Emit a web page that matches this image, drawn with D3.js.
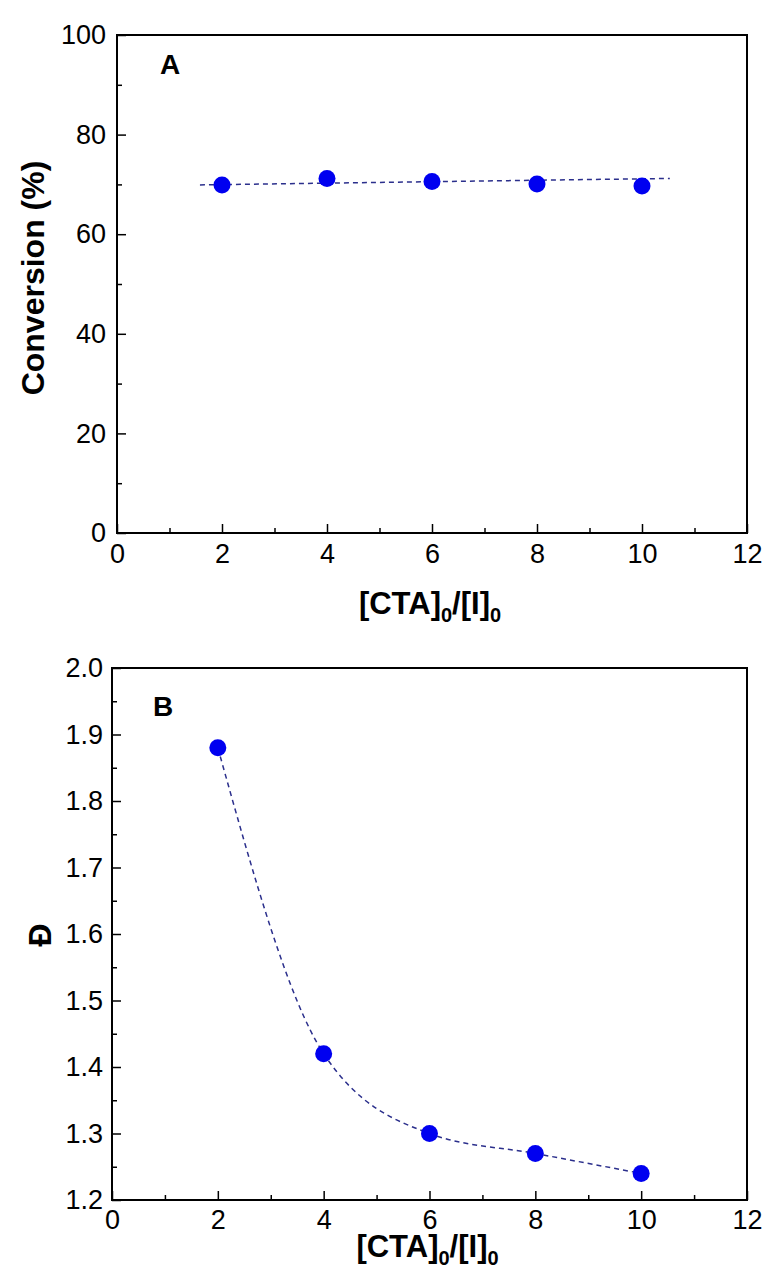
<!DOCTYPE html>
<html>
<head>
<meta charset="utf-8">
<script src="https://cdn.jsdelivr.net/npm/d3@7"></script>
<style>
  body { margin: 0; background: #fff; }
  text { font-family: "Liberation Sans", Arial, sans-serif; }
</style>
</head>
<body>
<script>
// data
var ratio = [2, 4, 6, 8, 10];
var conversion = [69.9, 71.2, 70.6, 70.1, 69.7];
var convFitX = [1.58, 10.53];
var convFitY = [69.9, 71.2];
var dispersity = [1.88, 1.42, 1.30, 1.27, 1.24];

var xTicks = [0, 2, 4, 6, 8, 10, 12];
var xMinor = [1, 3, 5, 7, 9, 11];
var convTicks = [0, 20, 40, 60, 80, 100];
var convMinor = [10, 30, 50, 70, 90];
var dispTicks = [1.2, 1.3, 1.4, 1.5, 1.6, 1.7, 1.8, 1.9, 2.0];
var dispMinor = [1.25, 1.35, 1.45, 1.55, 1.65, 1.75, 1.85, 1.95];

var W = 769, H = 1271;
var svg = d3.select("body").append("svg").attr("width", W).attr("height", H);

var drawPanel = function(p) {
  var x = d3.scaleLinear().domain([0, 12]).range([p.left, p.right]);
  var y = d3.scaleLinear().domain(p.yDomain).range([p.bottom, p.top]);
  var g = svg.append("g");

  // minor ticks
  g.append("g").attr("transform", "translate(0," + p.bottom + ")")
    .call(d3.axisBottom(x).tickValues(xMinor).tickSize(-5).tickFormat(""))
    .call(function(s) { s.select(".domain").remove(); });
  g.append("g").attr("transform", "translate(" + p.left + ",0)")
    .call(d3.axisLeft(y).tickValues(p.yMinor).tickSize(-5).tickFormat(""))
    .call(function(s) { s.select(".domain").remove(); });

  // major ticks
  var xa = g.append("g").attr("transform", "translate(0," + p.bottom + ")")
    .call(d3.axisBottom(x).tickValues(xTicks).tickSize(-9).tickPadding(p.xPad).tickFormat(d3.format("d")));
  var ya = g.append("g").attr("transform", "translate(" + p.left + ",0)")
    .call(d3.axisLeft(y).tickValues(p.yTicks).tickSize(-9).tickPadding(p.yPad).tickFormat(p.yFormat));
  [xa, ya].forEach(function(a) {
    a.select(".domain").remove();
    a.selectAll("text").attr("font-size", 27).attr("fill", "#000")
      .style("font-family", "'Liberation Sans', Arial, sans-serif");
  });
  g.selectAll(".tick line").attr("stroke", "#000").attr("stroke-width", 1.5);

  // frame
  g.append("rect")
    .attr("x", p.left).attr("y", p.top)
    .attr("width", p.right - p.left).attr("height", p.bottom - p.top)
    .attr("fill", "none").attr("stroke", "#000").attr("stroke-width", 2);

  // fit line
  var line = d3.line().x(function(d) { return x(d[0]); }).y(function(d) { return y(d[1]); })
    .curve(p.curve);
  g.append("path").datum(d3.zip(p.fitX, p.fitY))
    .attr("d", line).attr("fill", "none")
    .attr("stroke", "#2b2f8c").attr("stroke-width", 1.5)
    .attr("stroke-dasharray", "5,4");

  // points
  g.selectAll("circle.pt").data(d3.zip(ratio, p.values)).enter()
    .append("circle").attr("class", "pt")
    .attr("cx", function(d) { return x(d[0]); })
    .attr("cy", function(d) { return y(d[1]); })
    .attr("r", 8.5).attr("fill", "#0000f0");

  // panel letter
  g.append("text").attr("x", p.letterX).attr("y", p.letterY)
    .attr("font-size", 28).attr("font-weight", "bold").text(p.letter);

  // x title with subscripts
  var xt = g.append("text").attr("x", (p.left + p.right) / 2 - 2).attr("y", p.xTitleY)
    .attr("text-anchor", "middle").attr("font-size", 31).attr("font-weight", "bold");
  xt.append("tspan").text("[CTA]");
  xt.append("tspan").attr("font-size", 20).attr("dy", 8).text("0");
  xt.append("tspan").attr("dy", -8).text("/[I]");
  xt.append("tspan").attr("font-size", 20).attr("dy", 8).text("0");

  // y title
  g.append("text")
    .attr("transform", "translate(" + p.yTitleX + "," + p.yTitleY + ") rotate(-90)")
    .attr("text-anchor", "middle").attr("font-size", 32).attr("font-weight", "bold")
    .text(p.yTitle);
};

drawPanel({
  left: 117, right: 747, top: 35, bottom: 533,
  yDomain: [0, 100], yTicks: convTicks, yMinor: convMinor, yFormat: d3.format("d"), yPad: 11,
  xPad: 11,
  values: conversion, fitX: convFitX, fitY: convFitY, curve: d3.curveLinear,
  letter: "A", letterX: 160, letterY: 74,
  xTitleY: 614, yTitleX: 44, yTitleY: 278, yTitle: "Conversion (%)"
});

drawPanel({
  left: 112, right: 747, top: 668, bottom: 1200,
  yDomain: [1.2, 2.0], yTicks: dispTicks, yMinor: dispMinor, yFormat: d3.format(".1f"), yPad: 9,
  xPad: 10,
  values: dispersity, fitX: ratio, fitY: dispersity, curve: d3.curveMonotoneX,
  letter: "B", letterX: 153, letterY: 716,
  xTitleY: 1257, yTitleX: 51, yTitleY: 935, yTitle: "Đ"
});
</script>
</body>
</html>
